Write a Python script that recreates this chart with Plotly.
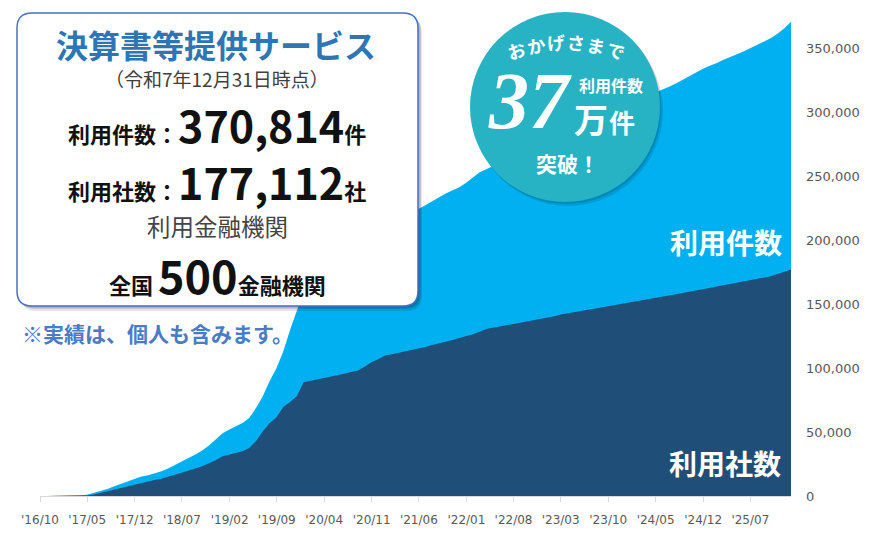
import math
import pandas as pd
import plotly.graph_objects as go

# ---------------- data (in thousands) ----------------
start_month_end = "2016-10-31"   # first month-end of the series
# 利用件数 (cumulative number of uses), thousands, month-end 2016-10 .. 2025-12
total_k = [
    0, 0, 0, 0, 0.2, 0.5, 1.0, 2.3, 3.8, 5.4,
    7.6, 9.6, 11.6, 13.6, 15.2, 16.3, 17.6, 19.3, 21.5, 24.5,
    27.0, 29.8, 32.5, 35.5, 39.5, 44.5, 49.0, 52.0, 54.5, 57.0,
    61.0, 69.0, 78.0, 90.0, 100.0, 113.0, 130.0, 145.0, 160.0, 168.0,
    172, 176, 180, 184, 188, 192, 196, 199.5, 203, 206.5,
    210, 213, 216, 219, 222, 224.5, 227.5, 230.5, 233.5, 236.5,
    239, 241.5, 245, 249, 253, 255.5, 258, 260.5, 263, 265.5,
    268, 270, 272.5, 275, 277.5, 280, 282.5, 284.5, 287, 289.5,
    292, 294.5, 297, 299, 301.5, 304, 306.5, 309, 311.5, 313.5,
    315.5, 317.5, 320, 322.5, 325.5, 328.5, 331.5, 334, 336.5, 338.5,
    341, 343, 345, 347.5, 350, 352.5, 355, 358, 361.5, 365.5,
    370.814,
]
# 利用社数 (cumulative number of companies), thousands
companies_k = [
    0, 0, 0, 0, 0, 0, 0.3, 1.2, 2.5, 3.6,
    4.8, 6.0, 7.4, 8.8, 10.2, 11.3, 12.5, 13.5, 15.0, 16.7,
    18.2, 19.8, 21.5, 23.3, 25.5, 28.0, 31.0, 32.5, 33.8, 35.0,
    37.5, 43.0, 50.5, 57.0, 61.6, 69.5, 73.5, 78.0, 88.9, 90.0,
    91.0, 92.0, 93.0, 94.2, 95.5, 97.0, 98.2, 101, 104.5, 107,
    109.8, 110.8, 111.8, 112.8, 113.8, 115, 116.5, 118, 119.2, 120.5,
    122, 123.5, 125, 126.5, 128.5, 130.5, 131.5, 132.5, 133.5, 134.5,
    135.5, 136.5, 137.5, 138.5, 139.5, 140.5, 142, 143, 143.8, 144.7,
    145.6, 146.5, 147.4, 148.3, 149.2, 150.1, 151, 151.9, 152.7, 153.7,
    154.7, 155.7, 156.7, 157.7, 158.7, 159.7, 160.7, 161.7, 162.6, 163.5,
    164.5, 165.5, 166.5, 167.5, 168.5, 169.5, 170.6, 171.8, 173.5, 175.3,
    177.112,
]
series_names = ["利用件数", "利用社数"]

tick_dates = ["2016-10-01", "2017-05-01", "2017-12-01", "2018-07-01", "2019-02-01",
              "2019-09-01", "2020-04-01", "2020-11-01", "2021-06-01", "2022-01-01",
              "2022-08-01", "2023-03-01", "2023-10-01", "2024-05-01", "2024-12-01",
              "2025-07-01"]
tick_labels = ["'16/10", "'17/05", "'17/12", "'18/07", "'19/02", "'19/09", "'20/04",
               "'20/11", "'21/06", "'22/01", "'22/08", "'23/03", "'23/10", "'24/05",
               "'24/12", "'25/07"]
y_ticks = [0, 50000, 100000, 150000, 200000, 250000, 300000, 350000]

dates = pd.date_range(start_month_end, periods=len(total_k), freq="ME")
total = [v * 1000 for v in total_k]
companies = [v * 1000 for v in companies_k]

# ---------------- layout geometry (page pixel coordinates) ----------------
PAGE_W, PAGE_H = 869, 539
OFF = 8                       # default body margin of the page
FW, FH = PAGE_W - OFF, PAGE_H - OFF
L, R, T, B = 40, 791, 10, 496  # plot area in page pixels
PW, PH = R - L, B - T
FONT = "Noto Sans CJK JP"


def px(x):
    return (x - L) / PW


def py(y):
    return (B - y) / PH


def rounded_path(x0, y0, x1, y1, r):
    pts = [
        ("M", [(x0 + r, y0)]),
        ("L", [(x1 - r, y0)]),
        ("Q", [(x1, y0), (x1, y0 + r)]),
        ("L", [(x1, y1 - r)]),
        ("Q", [(x1, y1), (x1 - r, y1)]),
        ("L", [(x0 + r, y1)]),
        ("Q", [(x0, y1), (x0, y1 - r)]),
        ("L", [(x0, y0 + r)]),
        ("Q", [(x0, y0), (x0 + r, y0)]),
    ]
    s = ""
    for cmd, ps in pts:
        s += cmd + " " + " ".join(f"{px(a):.5f},{py(b):.5f}" for a, b in ps) + " "
    return s + "Z"


fig = go.Figure()
fig.add_trace(go.Scatter(x=dates, y=total, name=series_names[0], mode="lines",
                         line=dict(width=0, color="#00B0F0"), fill="tozeroy",
                         fillcolor="#00B0F0", hoverinfo="skip"))
fig.add_trace(go.Scatter(x=dates, y=companies, name=series_names[1], mode="lines",
                         line=dict(width=0, color="#1F4E79"), fill="tozeroy",
                         fillcolor="#1F4E79", hoverinfo="skip"))

shapes = []
# info box shadow + box
bx0, by0, bx1, by1 = 17, 13, 418, 306
for dx, dy, op in [(4, 5, 0.10), (3, 3, 0.14), (1.5, 1.5, 0.14)]:
    shapes.append(dict(type="path", xref="paper", yref="paper", layer="above",
                       path=rounded_path(bx0 + dx, by0 + dy, bx1 + dx, by1 + dy, 15),
                       fillcolor=f"rgba(0,0,0,{op})", line=dict(width=0)))
shapes.append(dict(type="path", xref="paper", yref="paper", layer="above",
                   path=rounded_path(bx0, by0, bx1, by1, 15),
                   fillcolor="white", line=dict(color="#4472C4", width=1.5)))
# badge circle
cx, cy, cr = 565, 107, 95
for dx, dy, op in [(3, 4, 0.10), (1.5, 2, 0.12)]:
    shapes.append(dict(type="circle", xref="paper", yref="paper", layer="above",
                       x0=px(cx - cr + dx), x1=px(cx + cr + dx),
                       y0=py(cy + cr + dy), y1=py(cy - cr + dy),
                       fillcolor=f"rgba(0,0,0,{op})", line=dict(width=0)))
shapes.append(dict(type="circle", xref="paper", yref="paper", layer="above",
                   x0=px(cx - cr), x1=px(cx + cr), y0=py(cy + cr), y1=py(cy - cr),
                   fillcolor="#27B3C4", line=dict(width=0)))

ann = []


def add_text(x, y, text, size, color, weight="normal", family=FONT, angle=0, style="normal"):
    ann.append(dict(x=px(x), y=py(y), xref="paper", yref="paper", text=text,
                    showarrow=False, xanchor="center", yanchor="middle", textangle=angle,
                    font=dict(family=family, size=size, color=color, weight=weight, style=style)))


add_text(216, 44, "決算書等提供サービス", 32, "#2E75B6", weight="bold")
add_text(217, 78, "（令和7年12月31日時点）", 19, "#404040")
add_text(217, 124, "利用件数：<span style='font-size:43px'>370,814</span>件", 22, "#111111", weight="bold")
add_text(217, 181, "利用社数：<span style='font-size:43px'>177,112</span>社", 22, "#111111", weight="bold")
add_text(217, 226, "利用金融機関", 23.5, "#444444")
add_text(217, 274, "全国 <span style='font-size:45px'>500</span>金融機関", 22, "#111111", weight="bold")
add_text(157, 333, "※実績は、個人も含みます。", 21, "#4A7BC8", weight="bold")

# badge texts
arc_cx, arc_cy, arc_r = 566, 208, 166
arc_chars = "おかげさまで"
for i, ch in enumerate(arc_chars):
    th = -17.5 + 7 * i
    x = arc_cx + arc_r * math.sin(math.radians(th))
    y = arc_cy - arc_r * math.cos(math.radians(th))
    add_text(x, y, ch, 18, "white", weight="bold", angle=th)
add_text(530, 101, "37", 80, "white", weight="bold", family="Liberation Serif", style="italic")
add_text(611, 85, "利用件数", 16, "white", weight="bold")
add_text(591, 118, "万", 34, "white", weight="bold")
add_text(622, 121, "件", 26, "white", weight="bold")
add_text(567, 163, "突破！", 21, "white", weight="bold")

# series labels
add_text(726, 242, series_names[0], 28, "white", weight="bold")
add_text(725, 463, series_names[1], 28, "white", weight="bold")

fig.update_layout(
    width=FW, height=FH,
    margin=dict(l=L - OFF, r=OFF + FW - R, t=T - OFF, b=OFF + FH - B),
    paper_bgcolor="white", plot_bgcolor="white",
    showlegend=False,
    shapes=shapes, annotations=ann,
    xaxis=dict(type="date", range=["2016-10-01", "2025-12-31"], showgrid=False,
               zeroline=False, showline=True, linecolor="#d9d9d9", linewidth=1,
               ticks="outside", ticklen=5, tickcolor="#d9d9d9",
               tickvals=tick_dates, ticktext=tick_labels, ticklabelstandoff=8,
               tickfont=dict(family="DejaVu Sans", size=12, color="#595959")),
    yaxis=dict(range=[0, 380000], side="right", showgrid=False, zeroline=False,
               showline=False, ticks="", tickvals=y_ticks, tickformat=",",
               ticklabelstandoff=14,
               tickfont=dict(family="DejaVu Sans", size=13, color="#595959")),
)

fig.write_html("out.html")
